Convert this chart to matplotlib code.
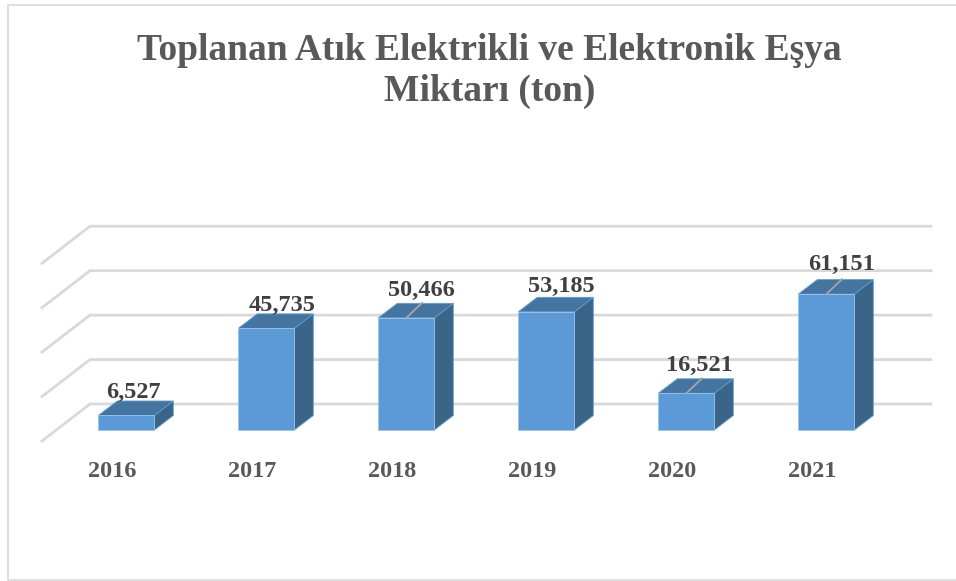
import matplotlib
matplotlib.use("Agg")
import matplotlib.pyplot as plt
from matplotlib.patches import Polygon, Rectangle

years = ["2016", "2017", "2018", "2019", "2020", "2021"]
values = [6527, 45735, 50466, 53185, 16521, 61151]
labels = ["6,527", "45,735", "50,466", "53,185", "16,521", "61,151"]
grid_values = [0, 20000, 40000, 60000, 80000]
title = "Toplanan Atık Elektrikli ve Elektronik Eşya\nMiktarı (ton)"

# label placement relative to each bar (pixels)
label_shift_x = [7.5, 15.5, 15.5, 15.5, 13, 15]
label_shift_y = [18, 17, 22, 20, 22, 24]
has_leader = [False, False, True, False, True, True]

W, H = 956, 581
PX_PER_X = 140.0
PX_PER_Y = 0.002222
X0_PX, Y0_PX = 126.3, 430.0

plt.rcParams["font.family"] = ["Liberation Serif", "DejaVu Serif"]
fig = plt.figure(figsize=(W / 100, H / 100), dpi=100, facecolor="white")
ax = fig.add_axes([0, 0, 1, 1])
ax.set_xlim(-X0_PX / PX_PER_X, (W - X0_PX) / PX_PER_X)
ax.set_ylim((Y0_PX - H) / PX_PER_Y, Y0_PX / PX_PER_Y)
ax.axis("off")


def dx(px):
    return px / PX_PER_X


def dy(px):
    return px / PX_PER_Y


# outer frame: top, left and bottom edges only
fig.add_artist(plt.Line2D([1, 7.5 / W, 7.5 / W, 1],
                          [1 - 4.5 / H, 1 - 4.5 / H, 1 - 580 / H, 1 - 580 / H],
                          color="#d9d9d9", lw=1.2))

# gridlines (side wall + back plane)
left_back = dx(90 - X0_PX)
left_front = dx(42 - X0_PX)
right = dx(931 - X0_PX)
floor_back = dy(Y0_PX - 404)
floor_front = dy(Y0_PX - 441)
for g in grid_values:
    ax.plot([left_front, left_back, right],
            [floor_front + g, floor_back + g, floor_back + g],
            color="#d9d9d9", lw=2.0, solid_joinstyle="miter", zorder=1)

# 3-D bars
half = dx(28)
ddx, ddy = dx(19), dy(14.5)
for i, (v, lab, yr) in enumerate(zip(values, labels, years)):
    ax.add_patch(Polygon([(i + half, 0), (i + half + ddx, ddy), (i + half + ddx, v + ddy), (i + half, v)],
                         facecolor="#3a6488", edgecolor="#5f9bd3", lw=0.6, zorder=3))
    ax.add_patch(Polygon([(i - half, v), (i - half + ddx, v + ddy), (i + half + ddx, v + ddy), (i + half, v)],
                         facecolor="#4475a1", edgecolor="#5f9bd3", lw=0.6, zorder=3))
    ax.add_patch(Rectangle((i - half, 0), 2 * half, v,
                           facecolor="#5b9ad6", edgecolor="#9cc3e6", lw=0.6, zorder=4))
    if has_leader[i]:
        ax.plot([i, i + dx(15.7)], [v, v + dy(15)], color="#a6a6a6", lw=1.3, zorder=5)
    ax.text(i + dx(label_shift_x[i]), v + dy(label_shift_y[i]), lab, ha="center", va="baseline",
            fontsize=17.5, fontweight="bold", color="#404040", zorder=6)
    ax.text(i - dx(14.5), dy(Y0_PX - 477), yr, ha="center", va="baseline", fontsize=17.5,
            fontweight="bold", color="#595959", zorder=6)

ax.text(dx(489.5 - X0_PX), dy(Y0_PX - 101), title, ha="center", va="baseline", fontsize=27,
        fontweight="bold", color="#595959", linespacing=1.22)

fig.savefig("out.png", dpi=100, facecolor="white")
